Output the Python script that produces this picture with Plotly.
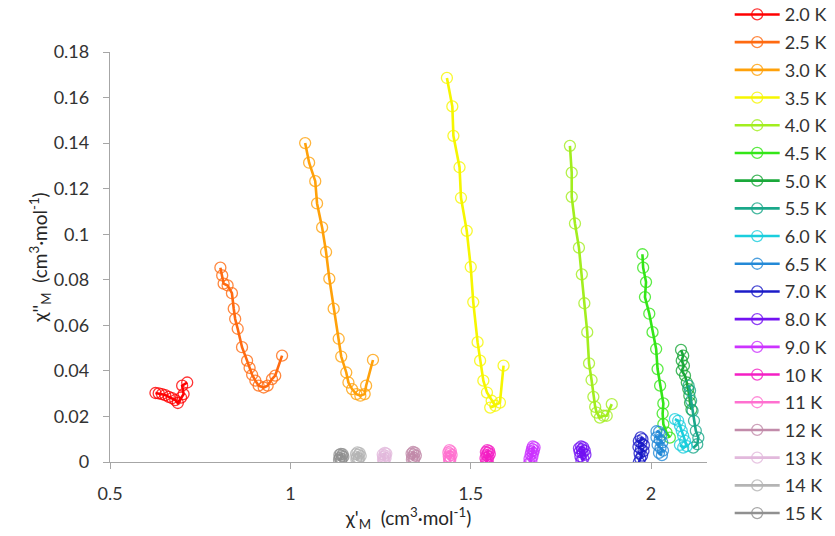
import plotly.graph_objects as go

# Temperatures and their series colours
temps = ["2.0 K", "2.5 K", "3.0 K", "3.5 K", "4.0 K", "4.5 K", "5.0 K", "5.5 K",
         "6.0 K", "6.5 K", "7.0 K", "8.0 K", "9.0 K", "10 K", "11 K", "12 K",
         "13 K", "14 K", "15 K"]
colors = ["#FF0000", "#FF6A10", "#FFA10A", "#F6F600", "#A2EE1E", "#33E617",
          "#1AA83A", "#1AA88A", "#1ACEDD", "#2389D7", "#1C1CC8", "#7312F2",
          "#CC33FF", "#F41FC4", "#FF70D0", "#C28BAA", "#E2B9DC", "#B4B4B4",
          "#909090"]

# chi' (x) and chi'' (y) for each temperature, cm3 mol-1
x_2_0 = [0.626, 0.635, 0.644, 0.653, 0.663, 0.672, 0.681, 0.688, 0.697, 0.704, 0.700, 0.714]
y_2_0 = [0.0303, 0.0301, 0.0298, 0.0294, 0.0286, 0.0280, 0.0272, 0.0259, 0.0283, 0.0298, 0.0335, 0.0349]

x_2_5 = [0.806, 0.811, 0.815, 0.826, 0.838, 0.843, 0.847, 0.854, 0.866, 0.880, 0.887,
         0.894, 0.903, 0.912, 0.926, 0.937, 0.949, 0.958, 0.977]
y_2_5 = [0.0853, 0.0819, 0.0783, 0.0775, 0.0741, 0.0673, 0.0628, 0.0585, 0.0504, 0.0445,
         0.0413, 0.0383, 0.0357, 0.0335, 0.0327, 0.0335, 0.0364, 0.0379, 0.0467]

x_3_0 = [1.041, 1.052, 1.069, 1.074, 1.088, 1.099, 1.108, 1.120, 1.134, 1.141, 1.155,
         1.161, 1.171, 1.183, 1.194, 1.206, 1.210, 1.229]
y_3_0 = [0.1400, 0.1314, 0.1233, 0.1135, 0.1030, 0.0922, 0.0805, 0.0673, 0.0541, 0.0463,
         0.0393, 0.0349, 0.0320, 0.0298, 0.0291, 0.0298, 0.0335, 0.0448]

x_3_5 = [1.434, 1.449, 1.452, 1.469, 1.473, 1.489, 1.500, 1.507, 1.519, 1.526, 1.535,
         1.545, 1.558, 1.568, 1.554, 1.581, 1.591]
y_3_5 = [0.1686, 0.1561, 0.1432, 0.1294, 0.1160, 0.1015, 0.0856, 0.0702, 0.0526, 0.0445,
         0.0357, 0.0305, 0.0269, 0.0247, 0.0239, 0.0261, 0.0423]

x_4_0 = [1.775, 1.780, 1.780, 1.789, 1.800, 1.808, 1.815, 1.823, 1.828, 1.835, 1.840,
         1.845, 1.849, 1.858, 1.868, 1.877, 1.891]
y_4_0 = [0.1388, 0.1270, 0.1164, 0.1047, 0.0941, 0.0824, 0.0697, 0.0570, 0.0433, 0.0360,
         0.0286, 0.0242, 0.0217, 0.0195, 0.0203, 0.0203, 0.0254]

x_4_5 = [1.976, 1.978, 1.986, 1.983, 1.995, 2.004, 2.014, 2.018, 2.025, 2.034, 2.032,
         2.034, 2.043, 2.052]
y_4_5 = [0.0912, 0.0853, 0.0790, 0.0724, 0.0651, 0.0570, 0.0496, 0.0408, 0.0335, 0.0257,
         0.0213, 0.0166, 0.0129, 0.0107]

x_5_0 = [2.083, 2.089, 2.085, 2.091, 2.085, 2.094, 2.099, 2.103, 2.106, 2.108, 2.112]
y_5_0 = [0.0492, 0.0467, 0.0445, 0.0423, 0.0401, 0.0379, 0.0349, 0.0320, 0.0291, 0.0260, 0.0230]

x_5_5 = [2.104, 2.108, 2.111, 2.115, 2.119, 2.124, 2.131, 2.128, 2.117]
y_5_5 = [0.0335, 0.0313, 0.0269, 0.0225, 0.0181, 0.0137, 0.0107, 0.0078, 0.0063]

x_6_0 = [2.066, 2.075, 2.080, 2.085, 2.089, 2.094, 2.099, 2.089, 2.080]
y_6_0 = [0.0188, 0.0181, 0.0159, 0.0137, 0.0115, 0.0093, 0.0070, 0.0063, 0.0075]

x_6_5 = [2.015, 2.022, 2.028, 2.015, 2.024, 2.031, 2.018, 2.026, 2.033, 2.022, 2.030]
y_6_5 = [0.0135, 0.0132, 0.0118, 0.0108, 0.0098, 0.0086, 0.0075, 0.0062, 0.0050, 0.0040, 0.0030]

x_7_0 = [1.971, 1.976, 1.966, 1.973, 1.980, 1.965, 1.972, 1.979, 1.968, 1.975, 1.970, 1.966]
y_7_0 = [0.0108, 0.0100, 0.0092, 0.0083, 0.0074, 0.0066, 0.0057, 0.0048, 0.0038, 0.0028, 0.0015, -0.0002]

x_8_0 = [1.806, 1.812, 1.800, 1.808, 1.816, 1.802, 1.810, 1.818, 1.804, 1.812, 1.807]
y_8_0 = [0.0068, 0.0064, 0.0060, 0.0056, 0.0050, 0.0045, 0.0040, 0.0032, 0.0025, 0.0015, 0.0006]

x_9_0 = [1.672, 1.677, 1.670, 1.675, 1.668, 1.673, 1.666, 1.671, 1.663, 1.668, 1.662]
y_9_0 = [0.0068, 0.0064, 0.0058, 0.0052, 0.0046, 0.0040, 0.0032, 0.0024, 0.0014, 0.0005, -0.0006]

x_10 = [1.546, 1.551, 1.542, 1.548, 1.553, 1.544, 1.549, 1.541, 1.547, 1.543, 1.548]
y_10 = [0.0052, 0.0048, 0.0044, 0.0040, 0.0035, 0.0030, 0.0024, 0.0017, 0.0008, 0.0000, -0.0010]

x_11 = [1.441, 1.445, 1.438, 1.443, 1.447, 1.439, 1.444, 1.440, 1.443, 1.441]
y_11 = [0.0052, 0.0047, 0.0042, 0.0037, 0.0031, 0.0025, 0.0019, 0.0013, 0.0007, 0.0004]

x_12 = [1.340, 1.345, 1.336, 1.342, 1.348, 1.338, 1.344, 1.337, 1.342]
y_12 = [0.0044, 0.0041, 0.0037, 0.0033, 0.0028, 0.0022, 0.0017, 0.0012, 0.0008]

x_13 = [1.262, 1.266, 1.256, 1.263, 1.258, 1.264, 1.257, 1.261, 1.259]
y_13 = [0.0040, 0.0037, 0.0033, 0.0028, 0.0023, 0.0018, 0.0012, 0.0008, 0.0004]

x_14 = [1.186, 1.192, 1.182, 1.189, 1.195, 1.184, 1.190, 1.183, 1.188]
y_14 = [0.0042, 0.0039, 0.0035, 0.0031, 0.0026, 0.0021, 0.0016, 0.0012, 0.0008]

x_15 = [1.140, 1.145, 1.136, 1.143, 1.147, 1.137, 1.142, 1.135, 1.140]
y_15 = [0.0036, 0.0034, 0.0031, 0.0027, 0.0023, 0.0018, 0.0014, 0.0010, 0.0006]

xs = [x_2_0, x_2_5, x_3_0, x_3_5, x_4_0, x_4_5, x_5_0, x_5_5, x_6_0, x_6_5,
      x_7_0, x_8_0, x_9_0, x_10, x_11, x_12, x_13, x_14, x_15]
ys = [y_2_0, y_2_5, y_3_0, y_3_5, y_4_0, y_4_5, y_5_0, y_5_5, y_6_0, y_6_5,
      y_7_0, y_8_0, y_9_0, y_10, y_11, y_12, y_13, y_14, y_15]

y_ticks = [0, 0.02, 0.04, 0.06, 0.08, 0.10, 0.12, 0.14, 0.16, 0.18]
y_tick_text = ["0", "0.02", "0.04", "0.06", "0.08", "0.1", "0.12", "0.14", "0.16", "0.18"]
x_ticks = [0.5, 1, 1.5, 2]
x_tick_text = ["0.5", "1", "1.5", "2"]

FONT = "Lato, 'Open Sans', sans-serif"
TEXT = "#333333"
AXIS = "#A6A6A6"

fig = go.Figure()
for name, c, x, y in zip(temps, colors, xs, ys):
    fig.add_trace(go.Scatter(
        x=x, y=y, name=name, mode="lines+markers",
        legendgroup=name,
        line=dict(color=c, width=2.6),
        marker=dict(symbol="circle-open", size=11, color=c,
                    line=dict(width=1.3, color=c), opacity=0.8),
    ))

fig.update_layout(
    width=835, height=536,
    margin=dict(l=110, r=128, t=52, b=74, autoexpand=False),
    paper_bgcolor="white", plot_bgcolor="white",
    font=dict(family=FONT, size=18, color=TEXT),
    showlegend=True,
    legend=dict(
        x=1.038, xanchor="left", y=1.136, yanchor="top",
        font=dict(family=FONT, size=18, color=TEXT),
        tracegroupgap=1.3, itemwidth=45, maxheight=536,
        bgcolor="rgba(0,0,0,0)", borderwidth=0,
    ),
    xaxis=dict(
        range=[0.5, 2.155], tickvals=x_ticks, ticktext=x_tick_text,
        showgrid=False, zeroline=False, showline=True, linecolor=AXIS, linewidth=1.3,
        ticks="outside", ticklen=6, tickcolor=AXIS, tickwidth=1.3,
        ticklabelstandoff=9,
        title=dict(text="χ'<sub>M</sub>  (cm<sup>3</sup>·mol<sup>-1</sup>)",
                   font=dict(family=FONT, size=19, color="#262626"), standoff=2),
    ),
    yaxis=dict(
        range=[0, 0.18], tickvals=y_ticks, ticktext=y_tick_text,
        showgrid=False, zeroline=False, showline=True, linecolor=AXIS, linewidth=1.3,
        ticks="outside", ticklen=6, tickcolor=AXIS, tickwidth=1.3,
        ticklabelstandoff=10,
        title=dict(text="χ''<sub>M</sub>  (cm<sup>3</sup>·mol<sup>-1</sup>)",
                   font=dict(family=FONT, size=19, color="#262626"), standoff=1),
    ),
)

fig.write_html("out.html")
